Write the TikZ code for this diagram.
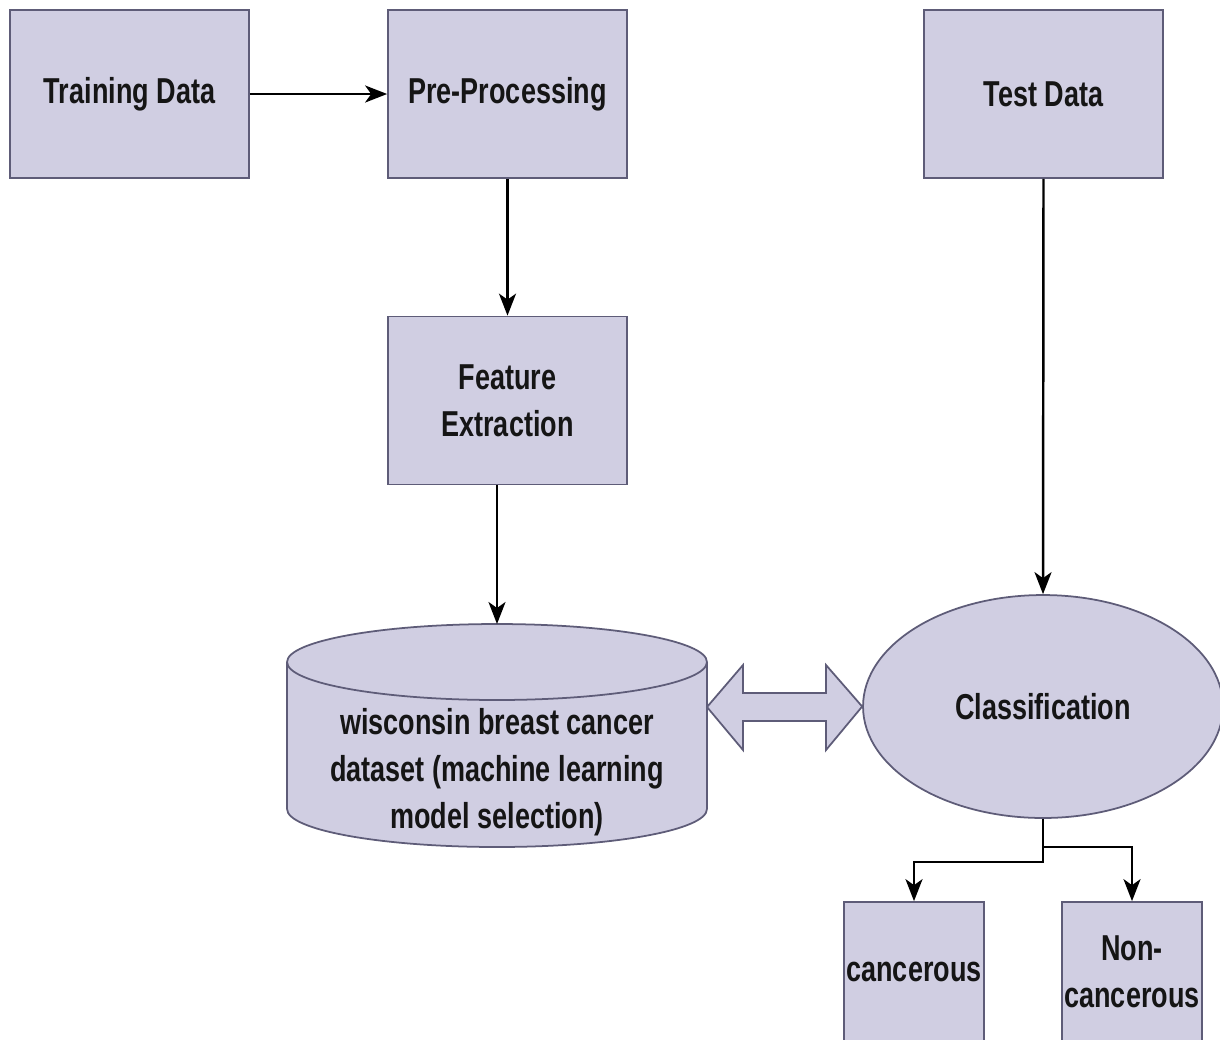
\documentclass[tikz,border=0pt]{standalone}
\usepackage{fontspec}
\setmainfont{Liberation Sans}[FakeStretch=0.75]
\usetikzlibrary{arrows.meta,shapes.geometric}
\definecolor{boxfill}{HTML}{D0CEE2}
\definecolor{boxline}{HTML}{5E5C78}
\definecolor{txt}{HTML}{151515}
\begin{document}
\begin{tikzpicture}[x=0.02cm,y=-0.02cm,
  lbl/.style={font=\fontsize{20.5}{26.8}\selectfont\bfseries, text=txt, align=center},
  procbox/.style={lbl, draw=boxline, fill=boxfill, line width=1pt, minimum width=4.78cm, minimum height=3.36cm, inner sep=0pt},
  smallbox/.style={procbox, minimum width=2.8cm, minimum height=2.8cm},
  ovalbox/.style={lbl, ellipse, draw=boxline, fill=boxfill, line width=1pt, minimum width=7.2cm, minimum height=4.46cm, inner sep=0pt},
  conn/.style={line width=1.4pt, draw=black, -{Stealth[length=0.44cm,width=0.34cm,inset=0.12cm]}},
  shapeline/.style={draw=boxline, line width=1pt}]
\useasboundingbox (0,0) rectangle (1220,1039);
\clip (0,0) rectangle (1220,1039);
\fill[white] (0,0) rectangle (1220,1039);

% top row
\node[procbox] (train) at (129.5,94) {Training Data};
\node[procbox] (pre) at (507.5,94) {Pre-Processing};
\node[procbox] (test) at (1043.5,94) {Test Data};
\node[procbox] (feat) at (507.5,400.5) {Feature\\Extraction};

% cylinder
\path[fill=boxfill, shapeline] (497,809) ellipse [x radius=4.2cm, y radius=0.76cm];
\fill[boxfill] (287,662) rectangle (707,809);
\draw[shapeline] (287,662) -- (287,809);
\draw[shapeline] (707,662) -- (707,809);
\path[fill=boxfill, shapeline] (497,662) ellipse [x radius=4.2cm, y radius=0.76cm];
\node[lbl] (db) at (497,772) {wisconsin breast cancer\\dataset (machine learning\\model selection)};
\coordinate (dbtop) at (497,624);
\coordinate (dbright) at (707,707);

% classification
\node[ovalbox] (cls) at (1043,706.5) {Classification};
\node[smallbox] (can) at (914,972) {cancerous};
\node[smallbox] (non) at (1132,972) {Non-\\cancerous};

% double arrow
\path[fill=boxfill, shapeline] (dbright) -- (743,665) -- (743,693) -- (826,693) -- (826,665)
  -- (cls.west) -- (826,750) -- (826,721) -- (743,721) -- (743,750) -- cycle;

% connectors
\draw[conn] (train.east) -- (pre.west);
\draw[conn] (pre.south) -- (feat.north);
\draw[conn] (feat.south -| dbtop) -- (dbtop);
\draw[conn] (test.south) -- (cls.north);
\draw[conn] (cls.south) -- ++(0,28) -| (non.north);
\draw[conn] (cls.south) -- ++(0,43) -| (can.north);
\end{tikzpicture}
\end{document}
